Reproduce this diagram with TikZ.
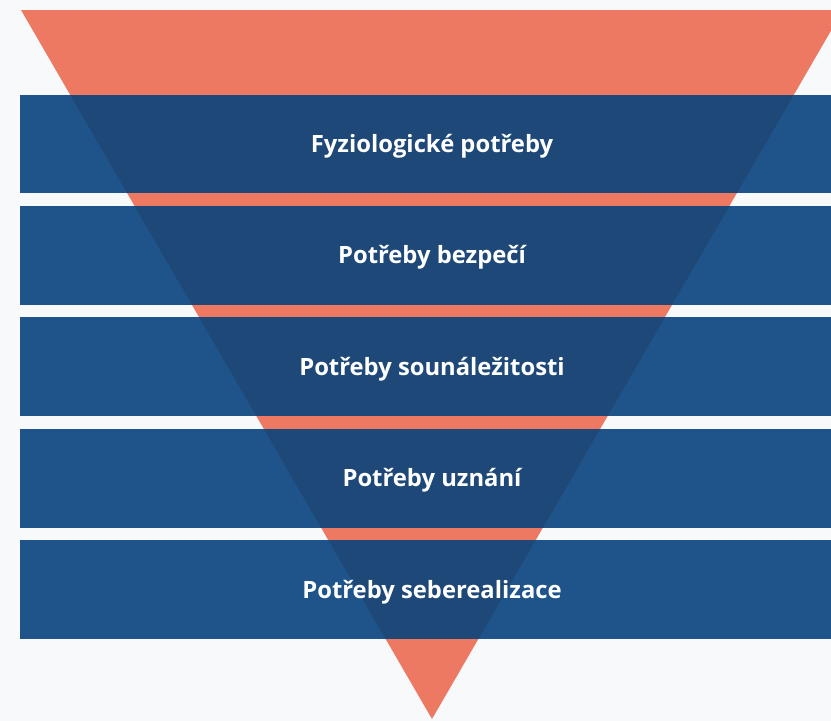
\documentclass[tikz,border=0pt]{standalone}
\usepackage{fontspec}
\setmainfont{Open Sans}
\definecolor{bgc}{HTML}{F7F9FB}
\definecolor{salmon}{HTML}{EE7962}
\definecolor{bandblue}{HTML}{1E5489}
\definecolor{overlap}{HTML}{1E4878}
\tikzset{
  lab/.style={text=white, font=\bfseries\fontsize{23.8}{28}\selectfont, anchor=base, inner sep=0pt},
}
\begin{document}
\begin{tikzpicture}[x=1pt,y=-1pt]
\useasboundingbox (0,0) rectangle (831,721);
\clip (0,0) rectangle (831,721);
\fill[bgc] (0,0) rectangle (831,721);
\coordinate (tl) at (21,10);
\coordinate (tr) at (843,10);
\coordinate (ap) at (432,719);
\fill[salmon] (tl) -- (tr) -- (ap) -- cycle;
\foreach \i in {0,...,4}{
  \pgfmathsetmacro{\yt}{94.5+111.45*\i}
  \fill[bandblue] (20,\yt) rectangle (840,\yt+98.8);
}
\begin{scope}
  \clip (tl) -- (tr) -- (ap) -- cycle;
  \foreach \i in {0,...,4}{
    \pgfmathsetmacro{\yt}{94.5+111.45*\i}
    \fill[overlap] (20,\yt) rectangle (840,\yt+98.8);
  }
\end{scope}
\node[lab] (l1) at (432,152.2) {Fyziologické potřeby};
\node[lab] (l2) at (432,263.6) {Potřeby bezpečí};
\node[lab] (l3) at (432,375.1) {Potřeby sounáležitosti};
\node[lab] (l4) at (432,486.5) {Potřeby uznání};
\node[lab] (l5) at (432,598.0) {Potřeby seberealizace};
\end{tikzpicture}
\end{document}
